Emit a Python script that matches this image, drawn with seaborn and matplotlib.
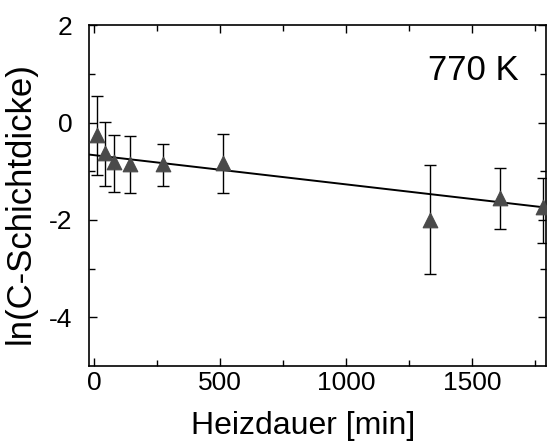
import seaborn as sns
import matplotlib.pyplot as plt
import numpy as np
import pandas as pd

heizdauer = [10, 43, 79, 142, 272, 512, 1333, 1611, 1781]
ln_dicke = [-0.25, -0.62, -0.82, -0.85, -0.85, -0.83, -2.0, -1.55, -1.73]
err_oben = [0.54, 0.02, -0.25, -0.27, -0.45, -0.23, -0.87, -0.93, -1.13]
err_unten = [-1.07, -1.30, -1.42, -1.44, -1.30, -1.44, -3.11, -2.19, -2.47]

# lineare Anpassung
fit_achse = -0.67
fit_steigung = -0.0006
fit_x = [-20, 1795]

df = pd.DataFrame({'t': heizdauer, 'y': ln_dicke})
fit = pd.DataFrame({'t': fit_x})
fit['y'] = fit_achse + fit_steigung * fit['t']

sns.set_style('ticks', {'text.color': 'black', 'axes.labelcolor': 'black',
                        'xtick.color': 'black', 'ytick.color': 'black',
                        'axes.edgecolor': 'black'})
plt.rcParams['font.family'] = ['Liberation Sans', 'DejaVu Sans']
plt.rcParams['axes.unicode_minus'] = False

fig, ax = plt.subplots(figsize=(5.48, 4.42), dpi=100)

sns.lineplot(data=fit, x='t', y='y', color='black', linewidth=1.4, ax=ax)

yerr = [np.array(ln_dicke) - np.array(err_unten), np.array(err_oben) - np.array(ln_dicke)]
ax.errorbar(heizdauer, ln_dicke, yerr=yerr, fmt='none', ecolor='black',
            elinewidth=1.0, capsize=4, capthick=1.0, zorder=2)

sns.scatterplot(data=df, x='t', y='y', marker='^', s=110, color='#4a4a4a',
                edgecolor='#4a4a4a', zorder=3, ax=ax)

ax.set_xlim(-20, 1795)
ax.set_ylim(-5, 2)
ax.set_xticks([0, 500, 1000, 1500])
ax.set_xticks([250, 750, 1250, 1750], minor=True)
ax.set_yticks([2, 0, -2, -4])
ax.set_yticks([1, -1, -3], minor=True)
ax.tick_params(direction='in', top=True, right=True, which='both', labelsize=19,
               length=6, width=1.0)
ax.tick_params(axis='y', pad=12)
ax.tick_params(which='minor', length=4)
for s in ax.spines.values():
    s.set_linewidth(1.2)

ax.text(0.939, 0.868, '770 K', transform=ax.transAxes, ha='right', va='center', fontsize=25)

ax.set_xlabel('Heizdauer [min]', fontsize=23)
ax.set_ylabel('ln(C-Schichtdicke)', fontsize=25)
ax.xaxis.set_label_coords(0.468, -0.133)
ax.yaxis.set_label_coords(-0.115, 0.478)

fig.subplots_adjust(left=0.163, right=0.997, top=0.943, bottom=0.172)
fig.savefig('out.png', dpi=100)
